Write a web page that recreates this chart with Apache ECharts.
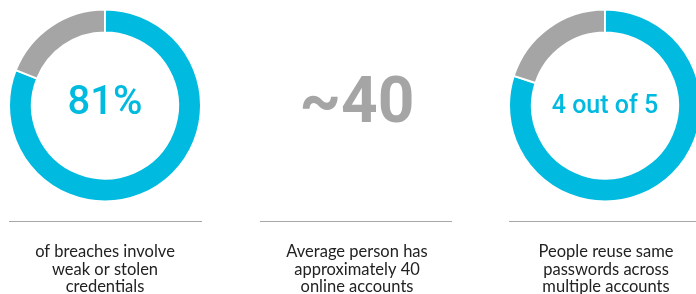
<!DOCTYPE html>
<html><head><meta charset="utf-8">
<script src="https://cdn.jsdelivr.net/npm/echarts@6/dist/echarts.min.js"></script>
<style>html,body{margin:0;padding:0;background:#fff}#c{width:696px;height:294px}</style>
</head><body><div id="c"></div>
<script>
const donut1Values = [81, 19];
const donut2Values = [80, 20];
const donutNames = ['Yes', 'No'];
const bigLabels = ['81%', '~40', '4 out of 5'];
const captions = [
  'of breaches involve\nweak or stolen\ncredentials',
  'Average person has\napproximately 40\nonline accounts',
  'People reuse same\npasswords across\nmultiple accounts'
];
const BLUE = '#00BADF', GREY = '#A5A5A5';
const chart = echarts.init(document.getElementById('c'));
function pie(center, vals) {
  return {
    type: 'pie', center: center, radius: [73, 96], startAngle: 90, clockwise: true,
    silent: true, label: {show: false}, labelLine: {show: false},
    itemStyle: {borderColor: '#fff', borderWidth: 2},
    data: vals.map((v, i) => ({name: donutNames[i], value: v, itemStyle: {color: i === 0 ? BLUE : GREY}}))
  };
}
const cols = [105, 357, 606];
const lines = [[9, 202], [260, 452], [509, 696]];
const graphic = [];
lines.forEach(l => graphic.push({type: 'line', shape: {x1: l[0], y1: 221.5, x2: l[1], y2: 221.5}, style: {stroke: '#A8A8A8', lineWidth: 1}}));
captions.forEach((t, i) => graphic.push({type: 'text', x: cols[i], y: 243, style: {text: t, font: '16.5px Lato', fill: '#222', align: 'center', verticalAlign: 'top', lineHeight: 17.5}}));
graphic.push({type: 'text', x: 105, y: 104, style: {text: bigLabels[0], font: '500 40px Roboto', fill: BLUE, align: 'center', verticalAlign: 'middle'}});
graphic.push({type: 'text', x: 357, y: 106, style: {text: bigLabels[1], font: 'bold 64px Roboto', fill: GREY, align: 'center', verticalAlign: 'middle'}});
graphic.push({type: 'text', x: 605, y: 107, style: {text: bigLabels[2], font: '500 25px Roboto', fill: BLUE, align: 'center', verticalAlign: 'middle'}});
chart.setOption({
  animation: false,
  series: [pie([105, 105.5], donut1Values), pie([605, 105.5], donut2Values)],
  graphic: graphic
});
</script></body></html>
